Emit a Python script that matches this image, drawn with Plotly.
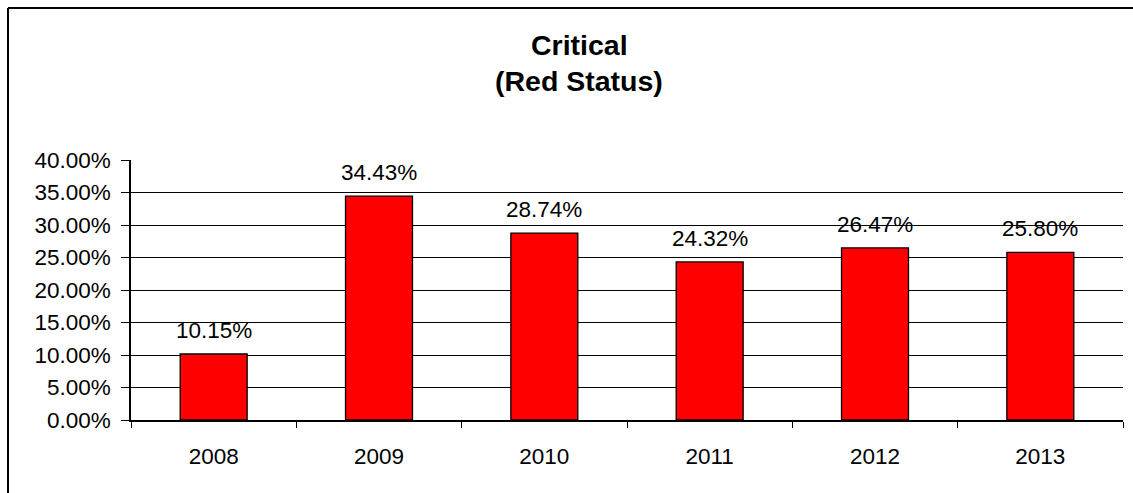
import plotly.graph_objects as go

years = ["2008", "2009", "2010", "2011", "2012", "2013"]
critical_share = [0.1015, 0.3443, 0.2874, 0.2432, 0.2647, 0.2580]
value_labels = ["10.15%", "34.43%", "28.74%", "24.32%", "26.47%", "25.80%"]
y_ticks = [0, 0.05, 0.10, 0.15, 0.20, 0.25, 0.30, 0.35, 0.40]
title_lines = ["Critical", "(Red Status)"]

W, H = 1133, 493
ML, MR, MT, MB = 131, 10, 160, 73
pw, ph = W - ML - MR, H - MT - MB

def px_x(p):
    return (p - ML) / pw

def px_y(p):
    return (H - MB - p) / ph

font = "Arial, Liberation Sans, sans-serif"
FS = 22.5

fig = go.Figure()
fig.add_trace(go.Bar(
    x=years, y=critical_share,
    marker=dict(color="#FF0000", line=dict(color="black", width=1.3)),
    width=0.405,
    hoverinfo="skip",
))

for i, (v, lab) in enumerate(zip(critical_share, value_labels)):
    fig.add_annotation(x=i, y=v, text=lab, showarrow=False, yanchor="bottom",
                       yshift=9, font=dict(family=font, size=FS, color="black"))

# two-line bold title
for line, cy in zip(title_lines, [44.5, 81.5]):
    fig.add_annotation(xref="paper", yref="paper", x=px_x(579), y=px_y(cy),
                       text="<b>%s</b>" % line, showarrow=False,
                       xanchor="center", yanchor="middle",
                       font=dict(family=font, size=28.5, color="black"))

# chart border (left and top visible)
fig.add_shape(type="line", xref="paper", yref="paper",
              x0=px_x(8), x1=px_x(8), y0=px_y(8), y1=px_y(520),
              line=dict(color="black", width=2))
fig.add_shape(type="line", xref="paper", yref="paper",
              x0=px_x(8), x1=px_x(1160), y0=px_y(8), y1=px_y(8),
              line=dict(color="black", width=2))

fig.update_layout(
    width=W, height=H,
    margin=dict(l=ML, r=MR, t=MT, b=MB),
    paper_bgcolor="white", plot_bgcolor="white",
    showlegend=False,
    font=dict(family=font, size=FS, color="black"),
)
fig.update_xaxes(
    type="category", tickson="boundaries", ticks="outside", ticklen=6,
    tickcolor="black", showline=True, linecolor="black", linewidth=1.5,
    showgrid=False, ticklabelstandoff=15,
    tickfont=dict(family=font, size=FS, color="black"),
)
fig.update_yaxes(
    range=[0, 0.40], tickvals=y_ticks, tickformat=".2%", ticks="outside", ticklen=8,
    tickcolor="black", showline=True, linecolor="black", linewidth=1.5,
    showgrid=True, gridcolor="black", gridwidth=1.2, zeroline=False,
    ticklabelstandoff=6,
    tickfont=dict(family=font, size=FS, color="black"),
)

fig.write_html("out.html", config={"displayModeBar": False},
               post_script="document.body.style.margin='0px';")
